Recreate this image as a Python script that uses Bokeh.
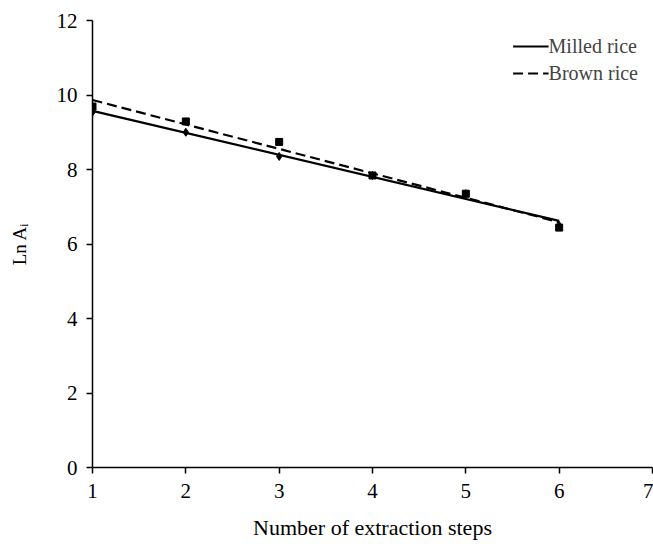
import numpy as np
from bokeh.plotting import figure
from bokeh.models import Range1d, Legend, LegendItem, FixedTicker
from bokeh.embed import file_html
from bokeh.resources import INLINE

steps = [1, 2, 3, 4, 5, 6]
milled = [9.54, 9.00, 8.35, 7.84, 7.35, 6.50]
brown = [9.69, 9.29, 8.74, 7.84, 7.35, 6.44]
x_ticks = [1, 2, 3, 4, 5, 6, 7]
y_ticks = [0, 2, 4, 6, 8, 10, 12]

FONT = "Liberation Serif"

p = figure(width=653, height=544, output_backend="svg", toolbar_location=None,
           x_range=Range1d(1, 7), y_range=Range1d(0, 12),
           min_border_left=92, min_border_right=1, min_border_top=20, min_border_bottom=77)
p.outline_line_color = None
p.grid.visible = False
p.background_fill_color = "white"

for ax in (p.xaxis[0], p.yaxis[0]):
    ax.axis_line_color = "black"
    ax.axis_line_width = 1.5
    ax.major_tick_line_color = "black"
    ax.major_tick_line_width = 1.5
    ax.major_tick_out = 6
    ax.major_tick_in = 0
    ax.minor_tick_line_color = None
    ax.major_label_text_font = FONT
    ax.major_label_text_font_size = "21px"
    ax.major_label_text_color = "black"
    ax.axis_label_text_font = FONT
    ax.axis_label_text_font_style = "normal"
    ax.axis_label_text_color = "black"

p.xaxis.ticker = FixedTicker(ticks=x_ticks)
p.yaxis.ticker = FixedTicker(ticks=y_ticks)
p.xaxis.major_label_standoff = 10
p.yaxis.major_label_standoff = 9
p.xaxis.axis_label = "Number of extraction steps"
p.xaxis.axis_label_text_font_size = "22px"
p.xaxis.axis_label_standoff = 14
p.yaxis.axis_label = "Ln A\u1d62"
p.yaxis.axis_label_text_font_size = "19px"
p.yaxis.axis_label_standoff = 24

xs = np.array(steps, dtype=float)
m_fit = np.polyfit(xs, milled, 1)
b_fit = np.polyfit(xs, brown, 1)
xline = np.array([steps[0], steps[-1]], dtype=float)

r_m = p.line(xline, np.polyval(m_fit, xline), line_color="black", line_width=2.2)
r_b = p.line(xline, np.polyval(b_fit, xline), line_color="black", line_width=2.2,
             line_dash="10 5")
p.scatter(steps, milled, marker="diamond", size=8, color="black")
p.scatter(steps, brown, marker="square", size=7, color="black")

legend = Legend(items=[LegendItem(label="Milled rice", renderers=[r_m]),
                       LegendItem(label="Brown rice", renderers=[r_b])],
                location="top_right", border_line_color=None,
                background_fill_alpha=0, label_text_font=FONT,
                label_text_font_size="20px", glyph_width=36, label_standoff=0,
                spacing=3, padding=0, margin=14, label_height=24)
p.add_layout(legend)

open("out.html", "w").write(file_html(p, INLINE))
